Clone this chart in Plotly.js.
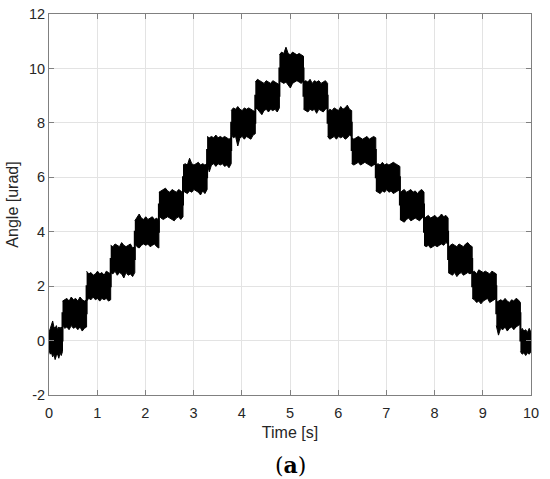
<!DOCTYPE html>
<html>
<head>
<meta charset="utf-8">
<script src="https://cdn.plot.ly/plotly-3.0.1.min.js"></script>
<style>
  html, body { margin: 0; padding: 0; background: #ffffff; }
  #chart { width: 550px; height: 479px; }
</style>
</head>
<body>
<div id="chart"></div>
<script>
// Step levels of the angle signal [urad]
const levels = [0, 1, 2, 3, 4, 5, 6, 7, 8, 9, 10, 9, 8, 7, 6, 5, 4, 3, 2, 1, 0];
// Start / end time of each step [s]
const stepStart = [0, 0.28, 0.78, 1.28, 1.78, 2.28, 2.78, 3.28, 3.78, 4.28, 4.78, 5.28, 5.78, 6.28, 6.78, 7.28, 7.78, 8.28, 8.78, 9.28, 9.78];
const stepEnd   = [0.28, 0.78, 1.28, 1.78, 2.28, 2.78, 3.28, 3.78, 4.28, 4.78, 5.28, 5.78, 6.28, 6.78, 7.28, 7.78, 8.28, 8.78, 9.28, 9.78, 10];
// Upper edge of the noise band of each step, offset from its level
const bandTop = [
  [0.30, 0.45, 0.60, 0.72, 0.50, 0.45, 0.55, 0.40, 0.50, 0.45, 0.50, 0.35],
  [0.45, 0.50, 0.55, 0.45, 0.60, 0.50, 0.55, 0.45, 0.60, 0.50, 0.45, 0.50],
  [0.55, 0.45, 0.50, 0.40, 0.45, 0.55, 0.45, 0.50, 0.40, 0.55, 0.50, 0.45],
  [0.50, 0.45, 0.55, 0.50, 0.45, 0.60, 0.50, 0.45, 0.50, 0.55, 0.40, 0.45],
  [0.40, 0.55, 0.65, 0.50, 0.45, 0.55, 0.45, 0.50, 0.55, 0.45, 0.50, 0.40],
  [0.45, 0.50, 0.55, 0.60, 0.50, 0.45, 0.55, 0.50, 0.45, 0.55, 0.50, 0.40],
  [0.45, 0.50, 0.45, 0.70, 0.50, 0.45, 0.50, 0.55, 0.45, 0.50, 0.45, 0.50],
  [0.50, 0.45, 0.50, 0.45, 0.55, 0.45, 0.50, 0.45, 0.50, 0.45, 0.40, 0.45],
  [0.45, 0.55, 0.50, 0.60, 0.50, 0.45, 0.55, 0.50, 0.55, 0.50, 0.45, 0.40],
  [0.50, 0.60, 0.55, 0.50, 0.45, 0.55, 0.50, 0.45, 0.55, 0.50, 0.45, 0.40],
  [0.50, 0.60, 0.55, 0.78, 0.55, 0.50, 0.60, 0.55, 0.50, 0.55, 0.50, 0.45],
  [0.50, 0.55, 0.50, 0.60, 0.45, 0.55, 0.50, 0.55, 0.45, 0.50, 0.55, 0.45],
  [0.40, 0.50, 0.45, 0.55, 0.50, 0.45, 0.60, 0.50, 0.55, 0.65, 0.50, 0.45],
  [0.45, 0.40, 0.45, 0.50, 0.45, 0.40, 0.45, 0.50, 0.40, 0.45, 0.50, 0.45],
  [0.45, 0.50, 0.45, 0.55, 0.45, 0.50, 0.45, 0.50, 0.55, 0.50, 0.45, 0.40],
  [0.40, 0.50, 0.55, 0.45, 0.50, 0.55, 0.45, 0.50, 0.40, 0.50, 0.55, 0.45],
  [0.45, 0.55, 0.60, 0.50, 0.55, 0.60, 0.50, 0.55, 0.65, 0.55, 0.60, 0.50],
  [0.40, 0.50, 0.55, 0.50, 0.45, 0.55, 0.50, 0.45, 0.55, 0.60, 0.50, 0.45],
  [0.50, 0.55, 0.45, 0.60, 0.55, 0.50, 0.55, 0.50, 0.45, 0.55, 0.50, 0.45],
  [0.40, 0.45, 0.50, 0.45, 0.55, 0.45, 0.40, 0.50, 0.45, 0.55, 0.50, 0.40],
  [0.30, 0.45, 0.35, 0.40, 0.30, 0.45, 0.30]
];
// Lower edge of the noise band of each step, offset from its level
const bandBottom = [
  [-0.35, -0.50, -0.45, -0.60, -0.50, -0.70, -0.55, -0.50, -0.65, -0.45, -0.55, -0.40],
  [-0.40, -0.55, -0.50, -0.60, -0.45, -0.55, -0.50, -0.60, -0.50, -0.65, -0.55, -0.50],
  [-0.55, -0.45, -0.50, -0.40, -0.50, -0.45, -0.55, -0.45, -0.50, -0.45, -0.55, -0.50],
  [-0.50, -0.55, -0.45, -0.60, -0.50, -0.55, -0.70, -0.50, -0.60, -0.55, -0.65, -0.50],
  [-0.45, -0.55, -0.60, -0.50, -0.45, -0.50, -0.45, -0.55, -0.50, -0.45, -0.55, -0.60],
  [-0.40, -0.50, -0.55, -0.50, -0.45, -0.50, -0.55, -0.60, -0.50, -0.45, -0.55, -0.45],
  [-0.50, -0.55, -0.60, -0.50, -0.55, -0.45, -0.50, -0.55, -0.65, -0.50, -0.60, -0.45],
  [-0.50, -0.80, -0.55, -0.50, -0.60, -0.50, -0.55, -0.50, -0.60, -0.55, -0.65, -0.50],
  [-0.40, -0.55, -0.50, -0.85, -0.55, -0.50, -0.60, -0.50, -0.55, -0.60, -0.45, -0.40],
  [-0.45, -0.50, -0.60, -0.70, -0.55, -0.50, -0.60, -0.50, -0.55, -0.50, -0.60, -0.45],
  [-0.45, -0.50, -0.55, -0.50, -0.60, -0.72, -0.55, -0.50, -0.45, -0.50, -0.55, -0.45],
  [-0.50, -0.55, -0.60, -0.50, -0.55, -0.50, -0.65, -0.50, -0.55, -0.60, -0.50, -0.45],
  [-0.50, -0.60, -0.55, -0.50, -0.60, -0.50, -0.55, -0.50, -0.60, -0.55, -0.45, -0.50],
  [-0.50, -0.55, -0.50, -0.45, -0.55, -0.50, -0.45, -0.50, -0.55, -0.60, -0.55, -0.50],
  [-0.50, -0.55, -0.60, -0.50, -0.55, -0.45, -0.55, -0.50, -0.60, -0.55, -0.50, -0.45],
  [-0.55, -0.60, -0.65, -0.55, -0.50, -0.60, -0.55, -0.50, -0.55, -0.60, -0.50, -0.45],
  [-0.50, -0.55, -0.50, -0.60, -0.55, -0.50, -0.55, -0.50, -0.45, -0.50, -0.40, -0.45],
  [-0.50, -0.55, -0.60, -0.50, -0.65, -0.55, -0.50, -0.60, -0.55, -0.50, -0.55, -0.50],
  [-0.45, -0.50, -0.60, -0.55, -0.65, -0.55, -0.50, -0.45, -0.60, -0.55, -0.50, -0.45],
  [-0.45, -0.80, -0.55, -0.60, -0.50, -0.65, -0.55, -0.50, -0.60, -0.50, -0.45, -0.40],
  [-0.40, -0.50, -0.45, -0.55, -0.45, -0.50, -0.40]
];
const xTicks = [0, 1, 2, 3, 4, 5, 6, 7, 8, 9, 10];
const yTicks = [-2, 0, 2, 4, 6, 8, 10, 12];

// Build one polygon per step (upper edge left->right, lower edge right->left)
const xs = [], ys = [];
levels.forEach((lv, i) => {
  const t = bandTop[i], b = bandBottom[i];
  const n = t.length;
  const dt = (stepEnd[i] - stepStart[i]) / (n - 1);
  for (let k = 0; k < n; k++) { xs.push(stepStart[i] + k * dt); ys.push(lv + t[k]); }
  for (let k = n - 1; k >= 0; k--) { xs.push(stepStart[i] + k * dt); ys.push(lv + b[k]); }
  xs.push(null); ys.push(null);
});
// Underlying staircase (joins the steps at each jump)
const stairX = stepStart.concat([stepEnd[stepEnd.length - 1]]);
const stairY = levels.concat([levels[levels.length - 1]]);

const font = { family: 'Liberation Sans, Arial, sans-serif', size: 14.5, color: '#262626' };
const axisCommon = {
  showline: true, linecolor: '#808080', linewidth: 1, mirror: 'ticks',
  ticks: 'inside', ticklen: 5, tickcolor: '#808080', tickwidth: 1,
  showgrid: true, gridcolor: '#e3e3e3', gridwidth: 1, zeroline: false,
  tickfont: font
};

const data = [{
  type: 'scatter', mode: 'lines', x: stairX, y: stairY,
  line: { color: '#000000', width: 2, shape: 'hv' },
  hoverinfo: 'skip', showlegend: false
}, {
  type: 'scatter', mode: 'lines', x: xs, y: ys,
  fill: 'toself', fillcolor: '#000000',
  line: { color: '#000000', width: 1 },
  connectgaps: false, hoverinfo: 'skip', showlegend: false
}];

const layout = {
  width: 550, height: 479,
  margin: { l: 49, r: 19, t: 14, b: 84 },
  paper_bgcolor: '#ffffff', plot_bgcolor: '#ffffff',
  font: font,
  xaxis: Object.assign({}, axisCommon, {
    range: [0, 10], tickvals: xTicks, ticktext: xTicks.map(String),
    ticklabelstandoff: 5,
    title: { text: 'Time [s]', font: { family: font.family, size: 16, color: '#262626' }, standoff: 6 }
  }),
  yaxis: Object.assign({}, axisCommon, {
    range: [-2, 12], tickvals: yTicks, ticktext: yTicks.map(String),
    title: { text: 'Angle [urad]', font: { family: font.family, size: 16, color: '#262626' }, standoff: 6 }
  }),
  annotations: [{
    xref: 'paper', yref: 'paper', x: 0.5, y: -0.183, yanchor: 'middle', xanchor: 'center',
    showarrow: false, text: '(<b>a</b>)',
    font: { family: 'DejaVu Serif, serif', size: 22, color: '#000000' }
  }]
};

Plotly.newPlot('chart', data, layout, { staticPlot: true, displayModeBar: false });
</script>
</body>
</html>
